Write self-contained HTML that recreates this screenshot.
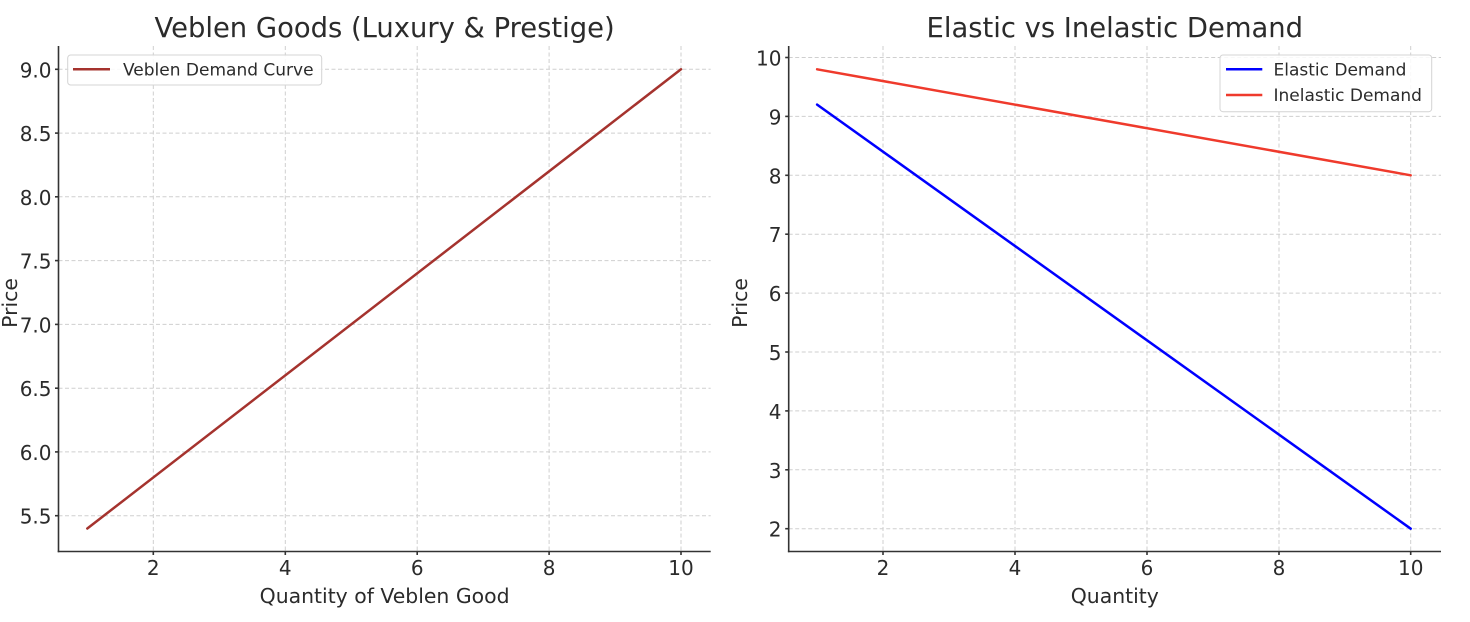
<!DOCTYPE html>
<html><head><meta charset="utf-8"><style>
html,body{margin:0;padding:0;background:#fff;}
svg{display:block;}
text{font-family:"DejaVu Sans","Liberation Sans",sans-serif;fill:#2b2b2b;}
</style></head><body>
<svg width="1470" height="622" viewBox="0 0 1470 622" xmlns="http://www.w3.org/2000/svg">
<rect width="1470" height="622" fill="#fff"/>
<!-- LEFT CHART -->
<g stroke="#cfcfcf" stroke-width="1" stroke-dasharray="4,2.5" fill="none">
<line x1="153.3" y1="46" x2="153.3" y2="551.5"/>
<line x1="285.3" y1="46" x2="285.3" y2="551.5"/>
<line x1="417.2" y1="46" x2="417.2" y2="551.5"/>
<line x1="549.1" y1="46" x2="549.1" y2="551.5"/>
<line x1="681" y1="46" x2="681" y2="551.5"/>
<line x1="58.5" y1="515.7" x2="710.7" y2="515.7"/>
<line x1="58.5" y1="451.9" x2="710.7" y2="451.9"/>
<line x1="58.5" y1="388.2" x2="710.7" y2="388.2"/>
<line x1="58.5" y1="324.4" x2="710.7" y2="324.4"/>
<line x1="58.5" y1="260.6" x2="710.7" y2="260.6"/>
<line x1="58.5" y1="196.8" x2="710.7" y2="196.8"/>
<line x1="58.5" y1="133.1" x2="710.7" y2="133.1"/>
<line x1="58.5" y1="69.3" x2="710.7" y2="69.3"/>
</g>
<line x1="87.3" y1="528.5" x2="681" y2="69.3" stroke="#a5332e" stroke-width="2.5" stroke-linecap="round"/>
<g stroke="#333" stroke-width="1.6">
<line x1="58.5" y1="46" x2="58.5" y2="552.3"/>
<line x1="57.7" y1="551.5" x2="710.7" y2="551.5"/>
<line x1="55" y1="515.7" x2="58.5" y2="515.7"/>
<line x1="55" y1="451.9" x2="58.5" y2="451.9"/>
<line x1="55" y1="388.2" x2="58.5" y2="388.2"/>
<line x1="55" y1="324.4" x2="58.5" y2="324.4"/>
<line x1="55" y1="260.6" x2="58.5" y2="260.6"/>
<line x1="55" y1="196.8" x2="58.5" y2="196.8"/>
<line x1="55" y1="133.1" x2="58.5" y2="133.1"/>
<line x1="55" y1="69.3" x2="58.5" y2="69.3"/>
<line x1="153.3" y1="551.5" x2="153.3" y2="555"/>
<line x1="285.3" y1="551.5" x2="285.3" y2="555"/>
<line x1="417.2" y1="551.5" x2="417.2" y2="555"/>
<line x1="549.1" y1="551.5" x2="549.1" y2="555"/>
<line x1="681" y1="551.5" x2="681" y2="555"/>
</g>
<g font-size="20" text-anchor="end">
<text x="51.5" y="523.7">5.5</text>
<text x="51.5" y="459.9">6.0</text>
<text x="51.5" y="396.2">6.5</text>
<text x="51.5" y="332.4">7.0</text>
<text x="51.5" y="268.6">7.5</text>
<text x="51.5" y="204.8">8.0</text>
<text x="51.5" y="141.1">8.5</text>
<text x="51.5" y="77.3">9.0</text>
</g>
<g font-size="20" text-anchor="middle">
<text x="153.3" y="575">2</text>
<text x="285.3" y="575">4</text>
<text x="417.2" y="575">6</text>
<text x="549.1" y="575">8</text>
<text x="681" y="575">10</text>
</g>
<g font-size="20.4" text-anchor="middle">
<text x="384.6" y="603">Quantity of Veblen Good</text>
<text transform="translate(17,303) rotate(-90)" x="0" y="0">Price</text>
</g>
<text x="384.6" y="37" font-size="27.4" text-anchor="middle">Veblen Goods (Luxury &amp; Prestige)</text>
<rect x="67.7" y="55" width="254" height="30" rx="3" fill="#fff" fill-opacity="0.85" stroke="#d4d4d4" stroke-width="1"/>
<line x1="73" y1="69.3" x2="110" y2="69.3" stroke="#a5332e" stroke-width="2.5"/>
<text x="123" y="75.5" font-size="17">Veblen Demand Curve</text>

<!-- RIGHT CHART -->
<g stroke="#cfcfcf" stroke-width="1" stroke-dasharray="4,2.5" fill="none">
<line x1="883" y1="46" x2="883" y2="551.5"/>
<line x1="1015" y1="46" x2="1015" y2="551.5"/>
<line x1="1147" y1="46" x2="1147" y2="551.5"/>
<line x1="1279" y1="46" x2="1279" y2="551.5"/>
<line x1="1410.7" y1="46" x2="1410.7" y2="551.5"/>
<line x1="788.7" y1="528.7" x2="1441" y2="528.7"/>
<line x1="788.7" y1="469.8" x2="1441" y2="469.8"/>
<line x1="788.7" y1="410.9" x2="1441" y2="410.9"/>
<line x1="788.7" y1="352" x2="1441" y2="352"/>
<line x1="788.7" y1="293.1" x2="1441" y2="293.1"/>
<line x1="788.7" y1="234.2" x2="1441" y2="234.2"/>
<line x1="788.7" y1="175.3" x2="1441" y2="175.3"/>
<line x1="788.7" y1="116.4" x2="1441" y2="116.4"/>
<line x1="788.7" y1="57.5" x2="1441" y2="57.5"/>
</g>
<line x1="817.1" y1="104.6" x2="1410.7" y2="528.7" stroke="#0000ff" stroke-width="2.5" stroke-linecap="round"/>
<line x1="817.1" y1="69.3" x2="1410.7" y2="175.3" stroke="#ef3a2c" stroke-width="2.5" stroke-linecap="round"/>
<g stroke="#333" stroke-width="1.6">
<line x1="788.7" y1="46" x2="788.7" y2="552.3"/>
<line x1="787.9" y1="551.5" x2="1441" y2="551.5"/>
<line x1="785.2" y1="528.7" x2="788.7" y2="528.7"/>
<line x1="785.2" y1="469.8" x2="788.7" y2="469.8"/>
<line x1="785.2" y1="410.9" x2="788.7" y2="410.9"/>
<line x1="785.2" y1="352" x2="788.7" y2="352"/>
<line x1="785.2" y1="293.1" x2="788.7" y2="293.1"/>
<line x1="785.2" y1="234.2" x2="788.7" y2="234.2"/>
<line x1="785.2" y1="175.3" x2="788.7" y2="175.3"/>
<line x1="785.2" y1="116.4" x2="788.7" y2="116.4"/>
<line x1="785.2" y1="57.5" x2="788.7" y2="57.5"/>
<line x1="883" y1="551.5" x2="883" y2="555"/>
<line x1="1015" y1="551.5" x2="1015" y2="555"/>
<line x1="1147" y1="551.5" x2="1147" y2="555"/>
<line x1="1279" y1="551.5" x2="1279" y2="555"/>
<line x1="1410.7" y1="551.5" x2="1410.7" y2="555"/>
</g>
<g font-size="20" text-anchor="end">
<text x="781.5" y="536.7">2</text>
<text x="781.5" y="477.8">3</text>
<text x="781.5" y="418.9">4</text>
<text x="781.5" y="360">5</text>
<text x="781.5" y="301.1">6</text>
<text x="781.5" y="242.2">7</text>
<text x="781.5" y="183.3">8</text>
<text x="781.5" y="124.4">9</text>
<text x="781.5" y="65.5">10</text>
</g>
<g font-size="20" text-anchor="middle">
<text x="883" y="575">2</text>
<text x="1015" y="575">4</text>
<text x="1147" y="575">6</text>
<text x="1279" y="575">8</text>
<text x="1410.7" y="575">10</text>
</g>
<g font-size="20.4" text-anchor="middle">
<text x="1114.8" y="603">Quantity</text>
<text transform="translate(747,303) rotate(-90)" x="0" y="0">Price</text>
</g>
<text x="1114.8" y="37" font-size="27.4" text-anchor="middle">Elastic vs Inelastic Demand</text>
<rect x="1220" y="55" width="211.7" height="56.7" rx="3" fill="#fff" fill-opacity="0.85" stroke="#d4d4d4" stroke-width="1"/>
<line x1="1226" y1="69.3" x2="1262.3" y2="69.3" stroke="#0000ff" stroke-width="2.5"/>
<line x1="1226" y1="95" x2="1262.3" y2="95" stroke="#ef3a2c" stroke-width="2.5"/>
<text x="1273.5" y="75.5" font-size="17">Elastic Demand</text>
<text x="1273.5" y="101.2" font-size="17">Inelastic Demand</text>
</svg>
</body></html>
